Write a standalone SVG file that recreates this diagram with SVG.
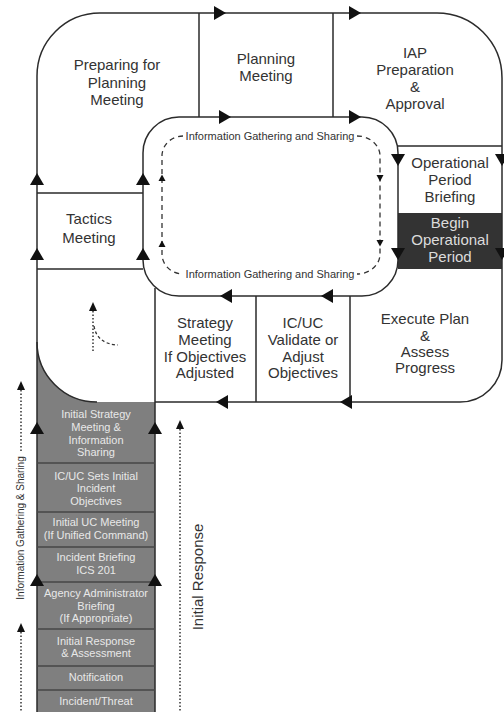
<svg xmlns="http://www.w3.org/2000/svg" width="504" height="712" viewBox="0 0 504 712">
  <style>
    .ln{fill:none;stroke:#2b2b2b;stroke-width:1.5}
    .gl{fill:none;stroke:#474747;stroke-width:1.5}
    .t{font-family:"Liberation Sans",Arial,sans-serif;font-size:15px;fill:#333;text-anchor:middle}
    .w{font-family:"Liberation Sans",Arial,sans-serif;font-size:15px;fill:#dcdcdc;text-anchor:middle}
    .g{font-family:"Liberation Sans",Arial,sans-serif;font-size:11px;fill:#e8e8e8;text-anchor:middle}
    .s{font-family:"Liberation Sans",Arial,sans-serif;font-size:11px;fill:#333;text-anchor:middle}
    .r{font-family:"Liberation Sans",Arial,sans-serif;fill:#333;text-anchor:middle}
    .dash{fill:none;stroke:#333;stroke-width:1.3;stroke-dasharray:5 4}
    .dot{fill:none;stroke:#333;stroke-width:1.5;stroke-dasharray:1.5 2}
    .ah{fill:#111}
  </style>
  <defs>
    <path id="aU" d="M-7,6 L0,-6 L7,6 Z"/>
    <path id="aD" d="M-7,-6 L0,6 L7,-6 Z"/>
    <path id="aR" d="M-6,-7 L6,0 L-6,7 Z"/>
    <path id="aL" d="M6,-7 L-6,0 L6,7 Z"/>
    <path id="sU" d="M-3.5,3 L0,-3.5 L3.5,3 Z"/>
    <path id="sD" d="M-3.5,-3 L0,3.5 L3.5,-3 Z"/>
    <path id="dU" d="M-4,4 L0,-5 L4,4 Z"/>
  </defs>

  <rect width="504" height="712" fill="#fff"/>

  <!-- shaded initial-response column and dark operational period box -->
  <path d="M37,342 A60,60 0 0 0 97,402 L155,402 L155,712 L37,712 Z" fill="#7f7f7f"/>
  <rect x="398" y="213" width="104" height="56" fill="#333"/>

  <!-- planning cycle outline and cell borders -->
  <g id="connectors">
    <path class="ln" d="M37,342 V76 A63,63 0 0 1 100,13 H437 A65,65 0 0 1 502,78 V360 A42,42 0 0 1 460,402 H155"/>
    <path class="ln" d="M37,342 A60,60 0 0 0 97,402"/>
    <rect class="ln" x="143" y="117" width="255" height="179" rx="36"/>
    <path class="ln" d="M199,13 V117 M333,13 V117 M37,193 H143 M37,269 H143 M398,146 H502 M256,296 V402 M350,296 V402 M37,342 V712 M155,288 V712"/>
    <path class="gl" d="M37,463 H155 M37,512 H155 M37,547 H155 M37,582 H155 M37,629 H155 M37,666 H155 M37,690 H155"/>

    <!-- flow arrowheads -->
    <g class="ah">
      <use href="#aR" x="220" y="13"/>
      <use href="#aR" x="355" y="13"/>
      <use href="#aR" x="225" y="117"/>
      <use href="#aR" x="355" y="117"/>
      <use href="#aD" x="398" y="160"/>
      <use href="#aD" x="502" y="160"/>
      <use href="#aD" x="398" y="254"/>
      <use href="#aD" x="502" y="254"/>
      <use href="#aL" x="226" y="296"/>
      <use href="#aL" x="327" y="296"/>
      <use href="#aL" x="222" y="402"/>
      <use href="#aL" x="346" y="402"/>
      <use href="#aU" x="37" y="179"/>
      <use href="#aU" x="143" y="179"/>
      <use href="#aU" x="37" y="254"/>
      <use href="#aU" x="143" y="254"/>
      <use href="#aU" x="37" y="428"/>
      <use href="#aU" x="155" y="428"/>
      <use href="#aU" x="37" y="580"/>
      <use href="#aU" x="155" y="580"/>
    </g>

    <!-- inner information loop -->
    <path class="dash" d="M183,136 A21,20 0 0 0 162,156 V254 A21,20 0 0 0 183,274"/>
    <path class="dash" d="M357,136 A23,20 0 0 1 380,156 V254 A23,20 0 0 1 357,274"/>
    <g class="ah">
      <use href="#sU" x="162" y="178"/>
      <use href="#sU" x="162" y="244"/>
      <use href="#sD" x="380" y="178"/>
      <use href="#sD" x="380" y="243"/>
    </g>

    <!-- dotted side arrows -->
    <path class="dot" d="M21,390 V453 M21,632 V712 M180,429 V712 M93,311 V352"/>
    <path d="M94,326 Q97,344 118,345" fill="none" stroke="#333" stroke-width="1.3" stroke-dasharray="3 2.5"/>
    <g class="ah">
      <use href="#dU" x="21" y="386"/>
      <use href="#dU" x="21" y="628"/>
      <use href="#dU" x="180" y="425"/>
      <use href="#dU" x="93" y="307"/>
    </g>
  </g>

  <g id="preparing-for-planning-meeting">
    <text class="t" x="117" y="70">Preparing for</text>
    <text class="t" x="117" y="88">Planning</text>
    <text class="t" x="117" y="105">Meeting</text>
  </g>
  <g id="planning-meeting">
    <text class="t" x="266" y="64">Planning</text>
    <text class="t" x="266" y="81">Meeting</text>
  </g>
  <g id="iap-preparation">
    <text class="t" x="415" y="58">IAP</text>
    <text class="t" x="415" y="75">Preparation</text>
    <text class="t" x="415" y="92">&amp;</text>
    <text class="t" x="415" y="109">Approval</text>
  </g>
  <g id="operational-period-briefing">
    <text class="t" x="450" y="168">Operational</text>
    <text class="t" x="450" y="185">Period</text>
    <text class="t" x="450" y="202">Briefing</text>
  </g>
  <g id="begin-operational-period">
    <text class="w" x="450" y="228">Begin</text>
    <text class="w" x="450" y="245">Operational</text>
    <text class="w" x="450" y="262">Period</text>
  </g>
  <g id="execute-plan">
    <text class="t" x="425" y="324">Execute Plan</text>
    <text class="t" x="425" y="341">&amp;</text>
    <text class="t" x="425" y="357">Assess</text>
    <text class="t" x="425" y="373">Progress</text>
  </g>
  <g id="validate-objectives">
    <text class="t" x="303" y="328">IC/UC</text>
    <text class="t" x="303" y="345">Validate or</text>
    <text class="t" x="303" y="362">Adjust</text>
    <text class="t" x="303" y="378">Objectives</text>
  </g>
  <g id="strategy-meeting">
    <text class="t" x="205" y="328">Strategy</text>
    <text class="t" x="205" y="345">Meeting</text>
    <text class="t" x="205" y="362">If Objectives</text>
    <text class="t" x="205" y="378">Adjusted</text>
  </g>
  <g id="tactics-meeting">
    <text class="t" x="89" y="224">Tactics</text>
    <text class="t" x="89" y="243">Meeting</text>
  </g>
  <g id="information-loop-labels">
    <text class="s" x="270" y="140">Information Gathering and Sharing</text>
    <text class="s" x="270" y="278">Information Gathering and Sharing</text>
  </g>

  <g id="initial-strategy-meeting">
    <text class="g" x="96" y="418">Initial Strategy</text>
    <text class="g" x="96" y="431">Meeting &amp;</text>
    <text class="g" x="96" y="444">Information</text>
    <text class="g" x="96" y="456">Sharing</text>
  </g>
  <g id="initial-objectives">
    <text class="g" x="96" y="480">IC/UC Sets Initial</text>
    <text class="g" x="96" y="492">Incident</text>
    <text class="g" x="96" y="505">Objectives</text>
  </g>
  <g id="initial-uc-meeting">
    <text class="g" x="96" y="526">Initial UC Meeting</text>
    <text class="g" x="96" y="539">(If Unified Command)</text>
  </g>
  <g id="incident-briefing">
    <text class="g" x="96" y="561">Incident Briefing</text>
    <text class="g" x="96" y="574">ICS 201</text>
  </g>
  <g id="agency-administrator-briefing">
    <text class="g" x="96" y="597">Agency Administrator</text>
    <text class="g" x="96" y="610">Briefing</text>
    <text class="g" x="96" y="622">(If Appropriate)</text>
  </g>
  <g id="initial-response-assessment">
    <text class="g" x="96" y="645">Initial Response</text>
    <text class="g" x="96" y="657">&amp; Assessment</text>
  </g>
  <g id="notification">
    <text class="g" x="96" y="681">Notification</text>
  </g>
  <g id="incident-threat">
    <text class="g" x="96" y="705">Incident/Threat</text>
  </g>

  <g id="side-labels">
    <text class="r" font-size="10" transform="translate(24,528) rotate(-90)">Information Gathering &amp; Sharing</text>
    <text class="r" font-size="15" transform="translate(203,577) rotate(-90)">Initial Response</text>
  </g>
</svg>
